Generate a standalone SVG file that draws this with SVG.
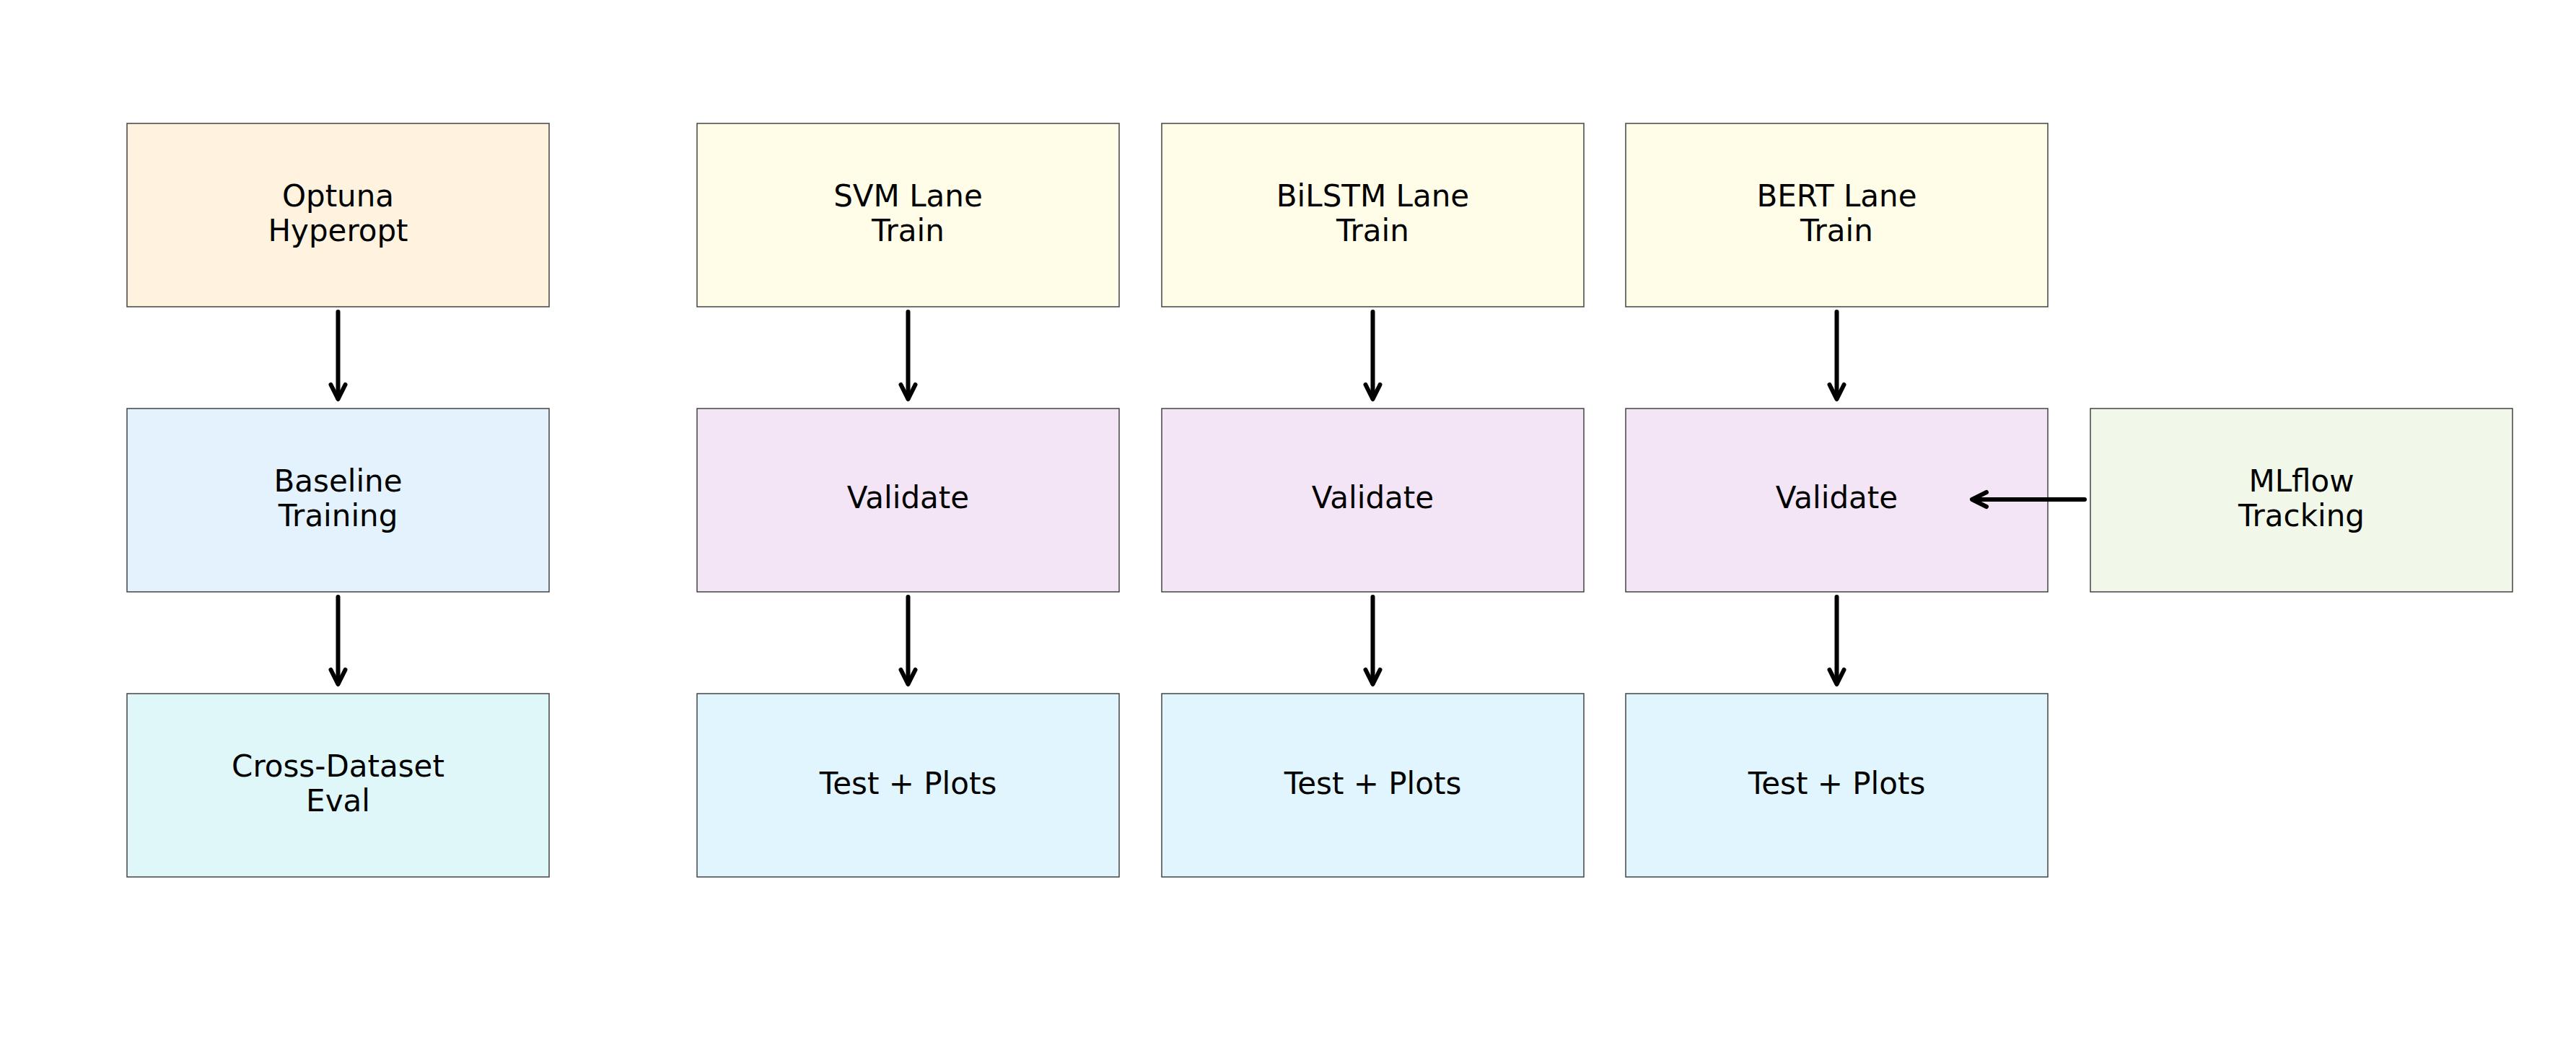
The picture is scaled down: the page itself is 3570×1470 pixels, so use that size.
<svg xmlns="http://www.w3.org/2000/svg" width="3570" height="1470" viewBox="0 0 3570 1470">
<style>
.box{stroke:#444;stroke-width:1.5}
.t{font-family:"DejaVu Sans",sans-serif;font-size:42px;fill:#000;text-anchor:middle}
.a{stroke:#000;stroke-width:6;stroke-linecap:round;fill:none}
.h{stroke:#000;stroke-width:6;stroke-linecap:round;stroke-linejoin:round;fill:none}
</style>
<rect width="3570" height="1470" fill="#fff"/>
<g id="optuna"><rect class="box" x="176" y="171" width="585" height="254" fill="#FFF3E0"/><text class="t" x="468.5" y="286">Optuna</text><text class="t" x="468.5" y="334">Hyperopt</text></g>
<g id="baseline"><rect class="box" x="176" y="566" width="585" height="254" fill="#E3F2FD"/><text class="t" x="468.5" y="681">Baseline</text><text class="t" x="468.5" y="729">Training</text></g>
<g id="crossdataset"><rect class="box" x="176" y="961" width="585" height="254" fill="#E0F7FA"/><text class="t" x="468.5" y="1076">Cross-Dataset</text><text class="t" x="468.5" y="1124">Eval</text></g>

<g id="svm_train"><rect class="box" x="966" y="171" width="585" height="254" fill="#FFFDE7"/><text class="t" x="1258.5" y="286">SVM Lane</text><text class="t" x="1258.5" y="334">Train</text></g>
<g id="svm_validate"><rect class="box" x="966" y="566" width="585" height="254" fill="#F3E5F5"/><text class="t" x="1258.5" y="704">Validate</text></g>
<g id="svm_test"><rect class="box" x="966" y="961" width="585" height="254" fill="#E1F5FE"/><text class="t" x="1258.5" y="1100">Test + Plots</text></g>

<g id="bilstm_train"><rect class="box" x="1610" y="171" width="585" height="254" fill="#FFFDE7"/><text class="t" x="1902.5" y="286">BiLSTM Lane</text><text class="t" x="1902.5" y="334">Train</text></g>
<g id="bilstm_validate"><rect class="box" x="1610" y="566" width="585" height="254" fill="#F3E5F5"/><text class="t" x="1902.5" y="704">Validate</text></g>
<g id="bilstm_test"><rect class="box" x="1610" y="961" width="585" height="254" fill="#E1F5FE"/><text class="t" x="1902.5" y="1100">Test + Plots</text></g>

<g id="bert_train"><rect class="box" x="2253" y="171" width="585" height="254" fill="#FFFDE7"/><text class="t" x="2545.5" y="286">BERT Lane</text><text class="t" x="2545.5" y="334">Train</text></g>
<g id="bert_validate"><rect class="box" x="2253" y="566" width="585" height="254" fill="#F3E5F5"/><text class="t" x="2545.5" y="704">Validate</text></g>
<g id="bert_test"><rect class="box" x="2253" y="961" width="585" height="254" fill="#E1F5FE"/><text class="t" x="2545.5" y="1100">Test + Plots</text></g>

<g id="mlflow"><rect class="box" x="2897" y="566" width="585" height="254" fill="#F1F8E9"/><text class="t" x="3189.5" y="681">MLflow</text><text class="t" x="3189.5" y="729">Tracking</text></g>

<g id="connectors">
<path class="a" d="M468.5 432V552"/><path class="h" d="M458.5 533L468.5 553L478.5 533"/>
<path class="a" d="M468.5 827V947"/><path class="h" d="M458.5 928L468.5 948L478.5 928"/>
<path class="a" d="M1258.5 432V552"/><path class="h" d="M1248.5 533L1258.5 553L1268.5 533"/>
<path class="a" d="M1258.5 827V947"/><path class="h" d="M1248.5 928L1258.5 948L1268.5 928"/>
<path class="a" d="M1902.5 432V552"/><path class="h" d="M1892.5 533L1902.5 553L1912.5 533"/>
<path class="a" d="M1902.5 827V947"/><path class="h" d="M1892.5 928L1902.5 948L1912.5 928"/>
<path class="a" d="M2545.5 432V552"/><path class="h" d="M2535.5 533L2545.5 553L2555.5 533"/>
<path class="a" d="M2545.5 827V947"/><path class="h" d="M2535.5 928L2545.5 948L2555.5 928"/>
<path class="a" d="M2889 692H2734"/><path class="h" d="M2753 682L2733 692L2753 702"/>
</g>
</svg>
